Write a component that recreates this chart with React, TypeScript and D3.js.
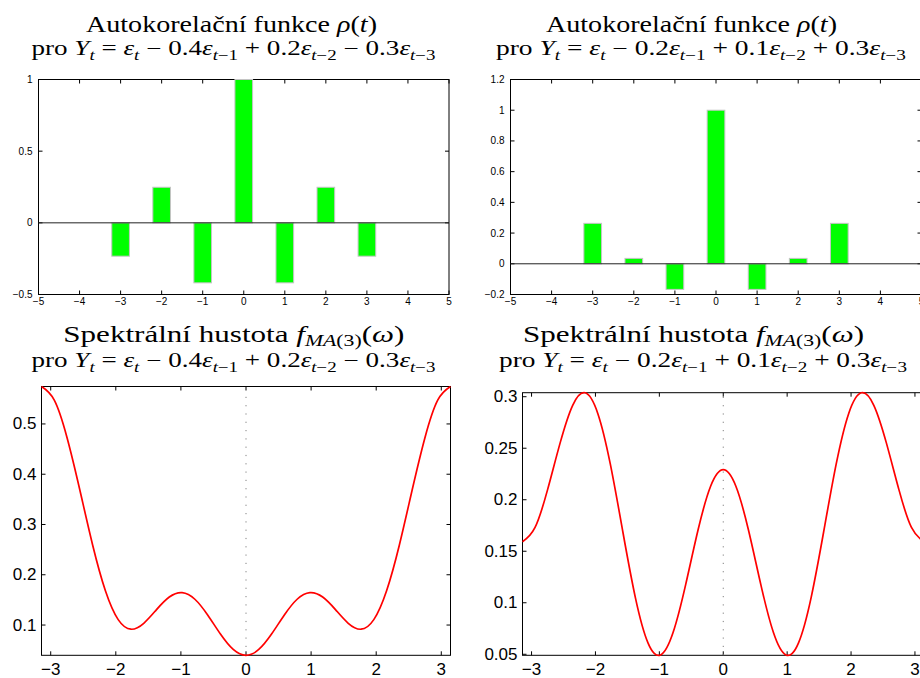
import React from 'react';
import * as d3 from 'd3';

// Autocorrelations of the two MA(3) processes at lags -3..3
const lags = [-3, -2, -1, 0, 1, 2, 3];
const acfA = [-0.2326, 0.2481, -0.4186, 1, -0.4186, 0.2481, -0.2326];
const acfB = [0.2632, 0.0351, -0.1667, 1, -0.1667, 0.0351, 0.2632];

// MA coefficients shown in the subtitles
const coefA = [-0.4, 0.2, -0.3];
const coefB = [-0.2, 0.1, 0.3];

// Spectral densities sampled on [-pi, pi]
const omega = [
  -3.1416, -2.9452, -2.7489, -2.5525, -2.3562, -2.1598, -1.9635, -1.7671, -1.5708,
  -1.3744, -1.1781, -0.9817, -0.7854, -0.589, -0.3927, -0.1963, 0, 0.1963, 0.3927,
  0.589, 0.7854, 0.9817, 1.1781, 1.3744, 1.5708, 1.7671, 1.9635, 2.1598, 2.3562,
  2.5525, 2.7489, 2.9452, 3.1416,
];
const specA = [
  0.5745, 0.5474, 0.4727, 0.3686, 0.2593, 0.1682, 0.1108, 0.0917, 0.1035, 0.1307,
  0.1557, 0.1645, 0.1513, 0.12, 0.082, 0.0514, 0.0398, 0.0514, 0.082, 0.12, 0.1513,
  0.1645, 0.1557, 0.1307, 0.1035, 0.0917, 0.1108, 0.1682, 0.2593, 0.3686, 0.4727,
  0.5474, 0.5745,
];
const specB = [
  0.1592, 0.1731, 0.2098, 0.2552, 0.2917, 0.3038, 0.2838, 0.2345, 0.1687, 0.1048,
  0.0611, 0.0493, 0.0711, 0.1174, 0.1711, 0.2133, 0.2292, 0.2133, 0.1711, 0.1174,
  0.0711, 0.0493, 0.0611, 0.1048, 0.1687, 0.2345, 0.2838, 0.3038, 0.2917, 0.2552,
  0.2098, 0.1731, 0.1592,
];

// Axis ticks
const acfXTicks = [-5, -4, -3, -2, -1, 0, 1, 2, 3, 4, 5];
const acfAYTicks = [-0.5, 0, 0.5, 1];
const acfBYTicks = [-0.2, 0, 0.2, 0.4, 0.6, 0.8, 1, 1.2];
const specXTicks = [-3, -2, -1, 0, 1, 2, 3];
const specAYTicks = [0.1, 0.2, 0.3, 0.4, 0.5];
const specBYTicks = [0.05, 0.1, 0.15, 0.2, 0.25, 0.3];

const SANS = "'Liberation Sans', Arial, Helvetica, sans-serif";
const SERIF = "'Liberation Serif', 'Times New Roman', serif";

const fmt = (v: number) => String(v).replace('-', '\u2212');

type Seg = { t: string; i?: boolean; s?: boolean };

function MathText({
  x,
  y,
  size,
  len,
  segs,
  subShift = 0.24,
}: {
  x: number;
  y: number;
  size: number;
  len: number;
  segs: Seg[];
  subShift?: number;
}) {
  let shift = 0;
  const parts = segs.map((sg, k) => {
    const target = sg.s ? size * subShift : 0;
    const dy = target - shift;
    shift = target;
    return (
      <tspan
        key={k}
        dy={dy !== 0 ? dy : undefined}
        fontStyle={sg.i ? 'italic' : 'normal'}
        fontSize={sg.s ? size * 0.7 : size}
      >
        {sg.t}
      </tspan>
    );
  });
  return (
    <text
      x={x}
      y={y}
      fontFamily={SERIF}
      fontSize={size}
      textLength={len}
      lengthAdjust="spacingAndGlyphs"
      style={{ whiteSpace: 'pre' }}
      fill="#000"
    >
      {parts}
    </text>
  );
}

const acfTitle: Seg[] = [
  { t: 'Autokorelační funkce ' },
  { t: 'ρ', i: true },
  { t: '(' },
  { t: 't', i: true },
  { t: ')' },
];

const specTitle: Seg[] = [
  { t: 'Spektrální hustota ' },
  { t: 'f', i: true },
  { t: 'MA', i: true, s: true },
  { t: '(3)', s: true },
  { t: '(' },
  { t: 'ω', i: true },
  { t: ')' },
];

function modelSegs(coef: number[]): Seg[] {
  const segs: Seg[] = [
    { t: 'pro ' },
    { t: 'Y', i: true },
    { t: 't', i: true, s: true },
    { t: ' = ' },
    { t: 'ε', i: true },
    { t: 't', i: true, s: true },
  ];
  coef.forEach((c, j) => {
    segs.push({ t: c < 0 ? ' \u2212 ' : ' + ' });
    segs.push({ t: String(Math.abs(c)) });
    segs.push({ t: 'ε', i: true });
    segs.push({ t: 't', i: true, s: true });
    segs.push({ t: '\u2212' + (j + 1), s: true });
  });
  return segs;
}

type Box = { l: number; r: number; t: number; b: number };

type PanelProps = {
  box: Box;
  xDomain: [number, number];
  yDomain: [number, number];
  xTicks: number[];
  yTicks: number[];
  fontSize: number;
  xLabelY: number;
  yLabelGap: number;
  children: (x: d3.ScaleLinear<number, number>, y: d3.ScaleLinear<number, number>) => React.ReactNode;
};

function Panel({ box, xDomain, yDomain, xTicks, yTicks, fontSize, xLabelY, yLabelGap, children }: PanelProps) {
  const x = d3.scaleLinear().domain(xDomain).range([box.l, box.r]);
  const y = d3.scaleLinear().domain(yDomain).range([box.b, box.t]);
  const tl = 4;
  return (
    <g>
      <rect x={box.l} y={box.t} width={box.r - box.l} height={box.b - box.t} fill="#fff" stroke="none" />
      <rect x={box.l} y={box.t} width={box.r - box.l} height={box.b - box.t} fill="none" stroke="#000" strokeWidth={1} />
      {xTicks.map((v) => (
        <g key={'x' + v}>
          <line x1={x(v)} x2={x(v)} y1={box.b} y2={box.b - tl} stroke="#000" />
          <line x1={x(v)} x2={x(v)} y1={box.t} y2={box.t + tl} stroke="#000" />
          <text x={x(v)} y={xLabelY} textAnchor="middle" fontFamily={SANS} fontSize={fontSize} fill="#000">
            {fmt(v)}
          </text>
        </g>
      ))}
      {yTicks.map((v) => (
        <g key={'y' + v}>
          <line x1={box.l} x2={box.l + tl} y1={y(v)} y2={y(v)} stroke="#000" />
          <line x1={box.r} x2={box.r - tl} y1={y(v)} y2={y(v)} stroke="#000" />
          <text
            x={box.l - yLabelGap}
            y={y(v)}
            textAnchor="end"
            dominantBaseline="central"
            fontFamily={SANS}
            fontSize={fontSize}
            fill="#000"
          >
            {fmt(v)}
          </text>
        </g>
      ))}
      {children(x, y)}
    </g>
  );
}

function AcfBars({ x, y, values }: { x: d3.ScaleLinear<number, number>; y: d3.ScaleLinear<number, number>; values: number[] }) {
  const w = 0.43;
  const [d0, d1] = x.domain();
  return (
    <g>
      {lags.map((lag, k) => {
        const v = values[k];
        const top = y(Math.max(0, v));
        const bot = y(Math.min(0, v));
        return (
          <rect
            key={lag}
            x={x(lag - w / 2)}
            y={top}
            width={x(lag + w / 2) - x(lag - w / 2)}
            height={bot - top}
            fill="#00ff00"
            stroke="#c4c4c4"
            strokeWidth={1}
          />
        );
      })}
      <line x1={x(d0)} x2={x(d1)} y1={y(0)} y2={y(0)} stroke="#222" strokeWidth={1} />
    </g>
  );
}

function SpecCurve({ x, y, values }: { x: d3.ScaleLinear<number, number>; y: d3.ScaleLinear<number, number>; values: number[] }) {
  const [y0, y1] = y.domain();
  const line = d3
    .line<number>()
    .x((_, k) => x(omega[k]))
    .y((v) => y(v))
    .curve(d3.curveNatural);
  return (
    <g>
      <line x1={x(0)} x2={x(0)} y1={y(y0)} y2={y(y1)} stroke="#808080" strokeWidth={1} strokeDasharray="1.2 7.1" />
      <path d={line(values) || ''} fill="none" stroke="#ff0000" strokeWidth={1.7} />
    </g>
  );
}

export default function App() {
  const boxTL: Box = { l: 38.5, r: 449, t: 79.5, b: 294.5 };
  const boxTR: Box = { l: 510.5, r: 921.5, t: 79.5, b: 294.5 };
  const boxBL: Box = { l: 41.5, r: 450.5, t: 386.5, b: 655.3 };
  const boxBR: Box = { l: 522.5, r: 924, t: 392.7, b: 655.3 };
  const PI = Math.PI;
  return (
    <svg
      width={920}
      height={678}
      style={{ position: 'absolute', left: 0, top: 0, background: '#fff' }}
      xmlns="http://www.w3.org/2000/svg"
    >
      <rect x={0} y={0} width={920} height={678} fill="#fff" />

      <MathText x={86} y={32} size={24} len={291} segs={acfTitle} />
      <MathText x={31.5} y={55} size={20} len={404} segs={modelSegs(coefA)} />
      <MathText x={546} y={32} size={24} len={291} segs={acfTitle} />
      <MathText x={496} y={55} size={20} len={410} segs={modelSegs(coefB)} />

      <MathText x={63.3} y={342} size={24} len={341} segs={specTitle} subShift={0.18} />
      <MathText x={31.5} y={367} size={20} len={404} segs={modelSegs(coefA)} />
      <MathText x={523} y={342} size={24} len={341} segs={specTitle} subShift={0.18} />
      <MathText x={499} y={367} size={20} len={408} segs={modelSegs(coefB)} />

      <Panel
        box={boxTL}
        xDomain={[-5, 5]}
        yDomain={[-0.5, 1]}
        xTicks={acfXTicks}
        yTicks={acfAYTicks}
        fontSize={10}
        xLabelY={305}
        yLabelGap={6}
      >
        {(x, y) => <AcfBars x={x} y={y} values={acfA} />}
      </Panel>
      <Panel
        box={boxTR}
        xDomain={[-5, 5]}
        yDomain={[-0.2, 1.2]}
        xTicks={acfXTicks}
        yTicks={acfBYTicks}
        fontSize={10}
        xLabelY={305}
        yLabelGap={6}
      >
        {(x, y) => <AcfBars x={x} y={y} values={acfB} />}
      </Panel>
      <Panel
        box={boxBL}
        xDomain={[-PI, PI]}
        yDomain={[0.0398, 0.5745]}
        xTicks={specXTicks}
        yTicks={specAYTicks}
        fontSize={17}
        xLabelY={675}
        yLabelGap={5}
      >
        {(x, y) => <SpecCurve x={x} y={y} values={specA} />}
      </Panel>
      <Panel
        box={boxBR}
        xDomain={[-PI, PI]}
        yDomain={[0.049, 0.3039]}
        xTicks={specXTicks}
        yTicks={specBYTicks}
        fontSize={17}
        xLabelY={675}
        yLabelGap={5}
      >
        {(x, y) => <SpecCurve x={x} y={y} values={specB} />}
      </Panel>
    </svg>
  );
}
